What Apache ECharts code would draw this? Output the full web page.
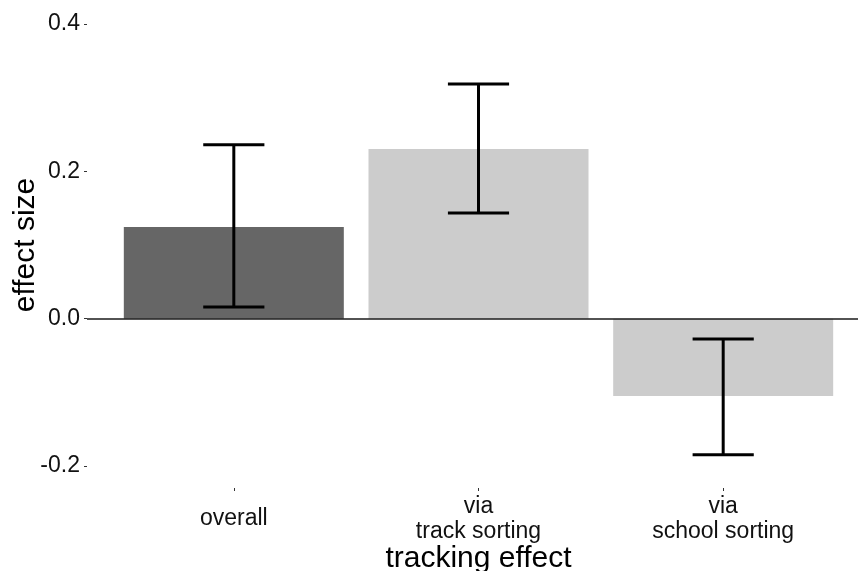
<!DOCTYPE html>
<html>
<head>
<meta charset="utf-8">
<script src="https://cdn.jsdelivr.net/npm/echarts@6/dist/echarts.min.js"></script>
<style>
  html, body { margin: 0; padding: 0; background: #ffffff; }
  #chart { width: 858px; height: 571px; }
</style>
</head>
<body>
<div id="chart"></div>
<script>
// Tracking effect estimates with confidence intervals
const categories = ['overall', 'via\ntrack sorting', 'via\nschool sorting'];
const effectSize = [0.1245, 0.2304, -0.1049];
const ciLower = [0.0159, 0.1435, -0.1850];
const ciUpper = [0.2362, 0.3186, -0.0275];
const yTicks = [-0.2, 0.0, 0.2, 0.4];
const categoryPositions = [1, 2, 3];

const FONT = '"Liberation Sans", Arial, Helvetica, sans-serif';
const darkFill = '#666666';
const lightFill = '#cccccc';

const barData = effectSize.map((v, i) => [categoryPositions[i], v]);
const errData = ciLower.map((lo, i) => [categoryPositions[i], lo, ciUpper[i]]);

const chart = echarts.init(document.getElementById('chart'), null, { renderer: 'canvas' });

chart.setOption({
  animation: false,
  backgroundColor: '#ffffff',
  grid: {
    left: 87, right: -12, top: 2, bottom: 83,
    containLabel: false,
    outerBoundsMode: 'none'
  },
  xAxis: {
    type: 'value',
    min: 0.4,
    max: 3.6,
    splitLine: { show: false },
    axisLine: { show: false, onZero: false },
    axisTick: {
      show: true,
      customValues: categoryPositions,
      length: 3,
      lineStyle: { color: '#333333', width: 1 }
    },
    axisLabel: {
      customValues: categoryPositions,
      formatter: v => categories[categoryPositions.indexOf(v)] || '',
      fontFamily: FONT,
      fontSize: 23,
      lineHeight: 25,
      color: '#111111',
      margin: 31,
      verticalAlign: 'middle',
      align: 'center'
    },
    name: 'tracking effect',
    nameLocation: 'middle',
    nameGap: 56,
    nameMoveOverlap: false,
    nameTextStyle: { fontFamily: FONT, fontSize: 30, color: '#000000' }
  },
  yAxis: {
    type: 'value',
    min: -0.23,
    max: 0.43,
    splitLine: { show: false },
    axisLine: { show: false, onZero: false },
    axisTick: {
      show: true,
      customValues: yTicks,
      length: 3,
      lineStyle: { color: '#333333', width: 1 }
    },
    axisLabel: {
      customValues: yTicks,
      formatter: v => v.toFixed(1),
      fontFamily: FONT,
      fontSize: 23,
      color: '#111111',
      margin: 7
    },
    name: 'effect size',
    nameLocation: 'middle',
    nameRotate: 90,
    nameGap: 46,
    nameMoveOverlap: false,
    nameTextStyle: { fontFamily: FONT, fontSize: 30, color: '#000000' }
  },
  series: [
    {
      type: 'bar',
      data: barData,
      barWidth: 220,
      itemStyle: {
        color: p => (p.dataIndex === 0 ? darkFill : lightFill)
      },
      markLine: {
        silent: true,
        symbol: 'none',
        label: { show: false },
        lineStyle: { color: '#1a1a1a', width: 1.5, type: 'solid' },
        data: [{ yAxis: 0 }]
      }
    },
    {
      type: 'custom',
      data: errData,
      z: 5,
      renderItem: (params, api) => {
        const x = api.value(0);
        const lo = api.coord([x, api.value(1)]);
        const hi = api.coord([x, api.value(2)]);
        const left = api.coord([x - 0.125, 0])[0];
        const right = api.coord([x + 0.125, 0])[0];
        const style = { stroke: '#000000', lineWidth: 3, fill: null };
        return {
          type: 'group',
          children: [
            { type: 'line', shape: { x1: lo[0], y1: lo[1], x2: hi[0], y2: hi[1] }, style },
            { type: 'line', shape: { x1: left, y1: hi[1], x2: right, y2: hi[1] }, style },
            { type: 'line', shape: { x1: left, y1: lo[1], x2: right, y2: lo[1] }, style }
          ]
        };
      }
    }
  ]
});
</script>
</body>
</html>
